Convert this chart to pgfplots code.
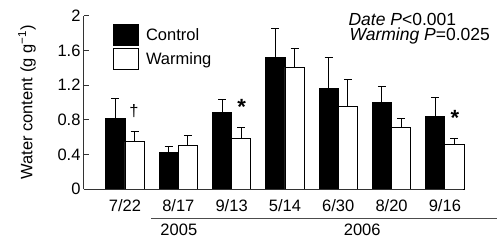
\documentclass[border=0pt]{standalone}
\usepackage{fontspec}
\setmainfont{Liberation Sans}
\usepackage{pgfplots}
\pgfplotsset{compat=1.18}
\begin{document}
\begin{tikzpicture}[font=\fontsize{16.5}{19}\selectfont]
\begin{axis}[
  at={(0,0)}, anchor=south west,
  scale only axis, width=379pt, height=173pt,
  xmin=-0.769, xmax=6.34, ymin=0, ymax=2,
  axis x line*=bottom, axis y line*=left,
  axis line style={line width=1pt, black!80},
  x axis line style={draw=none},
  xtick={0,1,2,3,4,5,6},
  xticklabels={7/22,8/17,9/13,5/14,6/30,8/20,9/16},
  xtick style={draw=none},
  xticklabel style={yshift=-2pt},
  ytick={0,0.4,0.8,1.2,1.6,2},
  yticklabels={0,0.4,0.8,1.2,1.6,2},
  ytick style={line width=1pt, black!80},
  major tick length=5pt,
  tick align=inside,
  ylabel={Water content (g g\textsuperscript{\char"2212 1})},
  ylabel style={at={(axis description cs:0,0.5)}, anchor=center, yshift=57pt},
  ybar, bar width=0.36,
  clip=false,
  legend style={at={(axis cs:-0.225,1.908)}, anchor=north west, draw=none, fill=none, inner sep=0pt, row sep=2pt, column sep=5pt},
  legend cell align=left,
]
\addplot[forget plot, bar shift=-0.18, fill=black, draw=black, line width=0.8pt,
  error bars/.cd, y dir=plus, y explicit, error bar style={line width=1pt, black}, error mark options={rotate=90, line width=1pt, mark size=4pt, black}]
  coordinates {(0,0.82) +- (0,0.23) (1,0.42) +- (0,0.07) (2,0.89) +- (0,0.14) (3,1.52) +- (0,0.33) (4,1.16) +- (0,0.36) (5,1.00) +- (0,0.19) (6,0.84) +- (0,0.22)};
\addplot[forget plot, bar shift=0.18, fill=white, draw=black, line width=0.8pt,
  error bars/.cd, y dir=plus, y explicit, error bar style={line width=1pt, black}, error mark options={rotate=90, line width=1pt, mark size=4pt, black}]
  coordinates {(0,0.545) +- (0,0.115) (1,0.50) +- (0,0.12) (2,0.58) +- (0,0.13) (3,1.41) +- (0,0.22) (4,0.95) +- (0,0.32) (5,0.71) +- (0,0.11) (6,0.51) +- (0,0.07)};
\addlegendimage{legend image code/.code={\draw[fill=black, draw=black, line width=0.8pt] (0pt,-10.5pt) rectangle (25pt,10.5pt);}}
\addlegendimage{legend image code/.code={\draw[fill=white, draw=black, line width=0.8pt] (0pt,-10.5pt) rectangle (25pt,10.5pt);}}
\legend{Control,Warming}
\draw[line width=1pt, black!80] (axis cs:-0.769,0) -- (axis cs:6.34,0);
\node at (axis cs:0.17,0.90) {†};
\node at (axis cs:2.19,0.95) {\fontsize{22}{22}\selectfont\textbf{*}};
\node at (axis cs:6.19,0.82) {\fontsize{22}{22}\selectfont\textbf{*}};
\node[anchor=west, inner sep=0pt, font=\fontsize{17.5}{20}\selectfont] at (axis cs:4.19,1.955) {\textit{Date P}<0.001};
\node[anchor=west, inner sep=0pt, font=\fontsize{17.5}{20}\selectfont] at (axis cs:4.21,1.765) {\textit{Warming P}=0.025};
\draw[line width=1pt, black!70] (axis cs:-0.28,0) ++(0,-29pt) -- ++(138pt,0);
\draw[line width=1pt, black!70] (axis cs:2.65,0) ++(0,-29pt) -- ++(196pt,0);
\node at (axis cs:1.01,0) [yshift=-41pt] {2005};
\node at (axis cs:4.45,0) [yshift=-41pt] {2006};
\end{axis}
\pgfresetboundingbox
\path[use as bounding box] (-84pt,-52pt) rectangle (413pt,189pt);
\end{tikzpicture}
\end{document}
